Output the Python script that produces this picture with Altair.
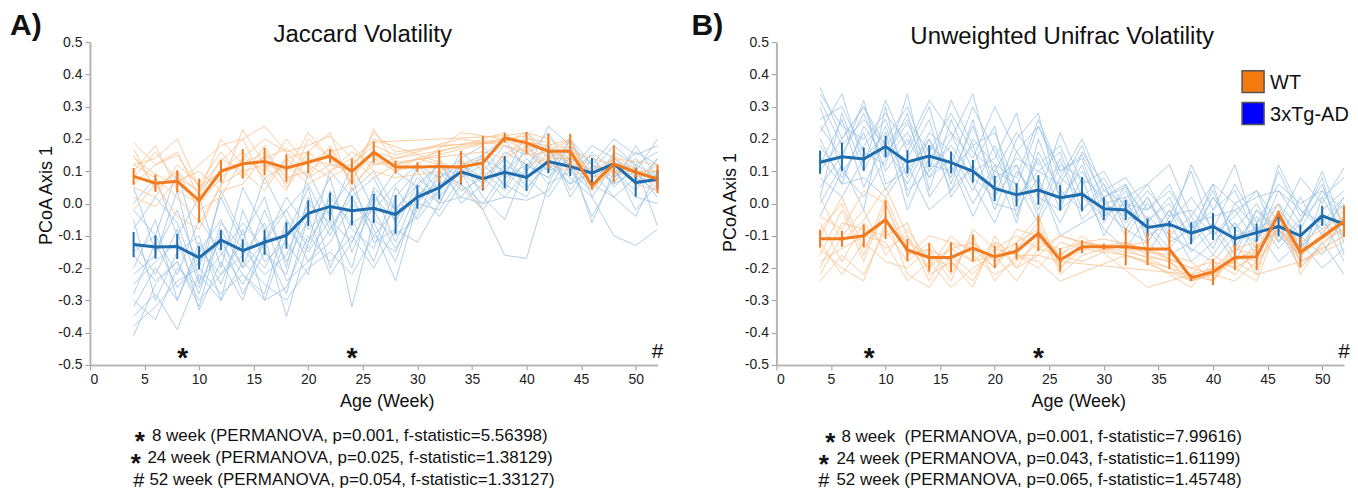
import altair as alt
import pandas as pd

WEEKS = [4, 6, 8, 10, 12, 14, 16, 18, 20, 22, 24, 26, 28, 30, 32, 34, 36, 38, 40, 42, 44, 46, 48, 50, 52]
N = None

# ---------------- Panel A : Jaccard ----------------
A_blue_mean = [-0.127, -0.135, -0.133, -0.168, -0.113, -0.146, -0.120, -0.099, -0.030, -0.009, -0.022, -0.015, -0.034,
               0.020, 0.049, 0.098, 0.077, 0.097, 0.081, 0.130, 0.115, 0.094, 0.123, 0.065, 0.075]
A_blue_err = [0.039, 0.036, 0.039, 0.036, 0.031, 0.035, 0.039, 0.041, 0.040, 0.043, 0.046, 0.045, 0.060,
              0.036, 0.036, 0.039, 0.036, 0.050, 0.042, 0.036, 0.030, 0.047, 0.030, 0.044, 0.030]
A_orange_mean = [0.084, 0.063, 0.069, 0.009, 0.100, 0.123, 0.130, 0.110, 0.128, 0.147, 0.099, 0.159, 0.113,
                 0.113, 0.115, 0.113, 0.126, 0.204, 0.188, 0.162, 0.162, 0.056, 0.123, 0.097, 0.076]
A_orange_err = [0.026, 0.027, 0.034, 0.068, 0.035, 0.046, 0.042, 0.043, 0.034, 0.022, 0.040, 0.034, 0.020,
                0.015, 0.050, 0.050, 0.083, 0.015, 0.034, 0.054, 0.054, 0.010, 0.057, 0.015, 0.044]

A_blue_ind = [
    [-0.41, -0.25, -0.18, -0.30, -0.22, -0.12, -0.20, -0.08, -0.15, -0.05, -0.12, 0.02, -0.05, 0.03, 0.06, 0.10, 0.04, 0.12, 0.08, 0.16, 0.12, 0.05, 0.14, 0.08, 0.10],
    [-0.30, -0.36, -0.20, -0.26, -0.10, -0.28, -0.15, -0.22, 0.02, -0.10, 0.05, -0.08, -0.24, 0.00, 0.08, 0.12, 0.15, 0.05, 0.18, 0.10, 0.20, 0.08, 0.12, -0.02, 0.06],
    [-0.02, -0.10, 0.10, -0.15, -0.05, -0.20, -0.02, -0.18, -0.05, 0.08, -0.15, 0.00, 0.10, 0.05, 0.12, 0.08, 0.15, 0.20, 0.10, 0.24, 0.18, 0.12, 0.20, 0.15, 0.18],
    [-0.20, -0.05, -0.30, -0.12, -0.25, -0.08, -0.30, -0.10, 0.05, -0.20, -0.05, -0.18, 0.02, 0.10, 0.00, 0.14, 0.02, -0.05, 0.12, 0.08, 0.14, -0.06, 0.10, 0.02, 0.00],
    [-0.12, -0.22, -0.08, -0.33, -0.18, -0.30, -0.10, -0.35, -0.12, 0.00, -0.32, -0.05, -0.10, -0.04, 0.10, 0.06, -0.02, -0.16, -0.17, 0.06, 0.10, 0.15, 0.05, 0.12, 0.08],
    [0.05, -0.15, -0.02, -0.20, 0.02, -0.12, 0.08, -0.05, -0.12, 0.10, 0.02, 0.08, -0.06, 0.12, 0.04, 0.16, 0.10, 0.18, 0.15, 0.22, 0.10, 0.18, 0.14, 0.10, 0.20],
    [-0.35, -0.28, -0.39, -0.22, -0.30, -0.18, -0.25, -0.30, -0.20, -0.15, -0.22, -0.10, -0.15, 0.00, -0.02, 0.08, 0.12, 0.06, 0.02, 0.14, 0.08, 0.02, -0.10, -0.13, -0.08],
    [-0.15, -0.10, -0.22, -0.05, -0.15, -0.25, -0.12, 0.02, -0.08, -0.02, 0.08, -0.12, -0.08, 0.06, 0.12, 0.04, 0.08, 0.14, 0.05, 0.12, 0.06, 0.16, 0.10, 0.04, 0.14],
    [-0.25, -0.18, -0.12, -0.28, -0.06, -0.14, -0.22, -0.16, 0.00, -0.06, -0.20, 0.05, -0.02, 0.08, 0.02, 0.10, 0.14, 0.10, 0.16, 0.10, 0.14, 0.10, 0.18, 0.12, -0.07],
    [-0.05, -0.30, -0.15, -0.10, -0.30, -0.02, -0.18, -0.12, -0.22, 0.04, -0.08, -0.14, 0.05, -0.05, 0.04, 0.12, 0.08, 0.02, 0.10, 0.18, 0.02, 0.12, 0.08, 0.16, 0.12],
    [-0.28, -0.12, -0.26, -0.18, -0.12, -0.22, -0.28, -0.05, -0.18, -0.12, 0.00, -0.06, -0.18, 0.02, 0.10, 0.02, 0.00, 0.02, 0.01, 0.04, 0.16, 0.06, 0.02, 0.08, 0.04],
    [0.00, 0.08, -0.10, 0.02, -0.20, 0.05, -0.08, -0.02, 0.06, -0.08, 0.04, 0.10, -0.02, 0.06, 0.00, 0.12, 0.06, 0.14, 0.08, 0.02, 0.12, -0.04, 0.08, 0.14, 0.06],
    [-0.38, -0.32, -0.24, -0.20, -0.28, -0.22, -0.30, -0.26, -0.10, -0.18, -0.10, -0.20, -0.08, -0.12, 0.00, 0.02, 0.10, 0.04, 0.14, 0.06, 0.20, 0.12, 0.06, 0.10, 0.02],
    [-0.08, 0.02, -0.06, -0.25, 0.04, -0.10, 0.02, -0.20, 0.10, -0.04, 0.12, -0.02, 0.06, 0.12, 0.08, 0.14, 0.18, 0.08, 0.22, 0.16, 0.10, 0.04, 0.16, 0.12, 0.16],
    [-0.22, -0.16, 0.04, -0.24, -0.16, -0.06, -0.14, -0.28, -0.04, -0.22, -0.12, 0.04, -0.12, 0.04, -0.04, 0.06, 0.00, 0.10, 0.04, 0.14, 0.06, 0.10, 0.02, -0.04, 0.10],
    [-0.32, -0.20, -0.30, -0.14, -0.22, -0.16, -0.06, -0.24, -0.18, -0.08, 0.02, -0.10, -0.02, 0.00, 0.14, 0.00, 0.06, 0.16, 0.12, 0.08, 0.18, 0.02, 0.12, 0.06, 0.14],
    [-0.16, -0.24, -0.18, -0.32, -0.08, -0.20, -0.12, -0.02, -0.14, 0.02, -0.06, -0.02, -0.14, -0.02, 0.04, 0.10, -0.02, 0.08, 0.12, 0.18, 0.04, 0.14, 0.06, 0.18, 0.08],
]
A_orange_ind = [
    [0.19, 0.12, 0.15, 0.05, 0.13, 0.20, 0.24, 0.16, 0.18, 0.21, 0.14, 0.19, N, N, N, N, N, 0.21, 0.22, 0.20, 0.16, N, 0.12, N, 0.08],
    [0.10, 0.18, 0.04, 0.00, 0.08, 0.14, 0.10, 0.20, 0.12, 0.17, 0.06, 0.23, 0.12, N, N, N, N, 0.20, 0.18, 0.16, 0.14, 0.06, 0.12, 0.10, 0.10],
    [0.05, 0.02, 0.12, 0.06, 0.16, 0.08, 0.18, 0.05, 0.14, 0.12, 0.10, 0.15, 0.10, 0.12, N, 0.22, N, N, N, 0.18, 0.20, 0.04, 0.15, N, 0.06],
    [0.12, 0.08, 0.02, -0.06, 0.05, 0.23, 0.12, 0.10, 0.22, 0.14, 0.08, 0.16, 0.14, N, N, N, N, N, 0.21, 0.14, 0.18, 0.08, 0.10, 0.08, 0.12],
    [0.15, 0.05, 0.10, 0.03, 0.20, 0.12, 0.16, 0.08, 0.10, 0.16, 0.18, 0.10, 0.08, N, 0.10, N, 0.14, 0.18, 0.16, 0.12, 0.10, N, N, N, N],
    [-0.02, 0.06, -0.04, -0.08, 0.06, 0.10, 0.04, 0.14, 0.08, 0.12, 0.12, 0.20, N, N, N, N, 0.08, 0.15, 0.20, 0.19, 0.12, 0.05, 0.10, 0.12, N],
    [0.08, 0.16, 0.07, 0.10, 0.04, 0.06, 0.15, 0.06, 0.16, 0.22, 0.04, 0.14, 0.10, 0.14, 0.12, 0.05, -0.02, N, N, N, N, N, N, N, N],
    [0.02, -0.01, 0.08, 0.04, 0.10, 0.16, 0.08, 0.12, 0.06, 0.10, 0.14, 0.08, 0.12, N, N, N, N, 0.22, 0.15, 0.16, 0.20, 0.06, 0.14, 0.09, 0.05],
    [0.12, 0.14, 0.20, 0.05, 0.10, 0.12, 0.14, 0.17, 0.12, 0.08, 0.12, 0.18, 0.15, N, N, 0.20, N, 0.18, 0.12, 0.14, 0.14, N, 0.10, N, 0.10],
    [0.14, 0.09, 0.06, 0.12, 0.18, 0.20, 0.06, 0.14, 0.16, 0.10, 0.16, 0.12, N, N, N, N, 0.16, 0.14, 0.18, 0.12, 0.16, 0.10, 0.14, N, 0.12],
    [0.06, 0.12, 0.16, 0.02, 0.14, 0.10, 0.12, 0.04, 0.20, 0.14, 0.10, 0.22, 0.16, N, N, N, N, 0.20, 0.16, 0.18, 0.12, 0.08, N, N, N],
    [0.17, 0.04, 0.10, -0.02, 0.02, 0.14, 0.20, 0.16, 0.08, 0.18, 0.06, 0.12, N, N, 0.18, N, N, 0.19, 0.22, 0.14, 0.20, 0.04, 0.12, 0.06, 0.04],
]

# ---------------- Panel B : Unweighted Unifrac ----------------
B_blue_mean = [0.128, 0.145, 0.138, 0.177, 0.129, 0.147, 0.127, 0.100, 0.047, 0.027, 0.042, 0.018, 0.029,
               -0.016, -0.020, -0.074, -0.064, -0.092, -0.071, -0.109, -0.090, -0.071, -0.100, -0.038, -0.064]
B_blue_err = [0.036, 0.044, 0.036, 0.033, 0.036, 0.034, 0.034, 0.035, 0.039, 0.036, 0.046, 0.040, 0.053,
              0.035, 0.031, 0.028, 0.010, 0.034, 0.042, 0.037, 0.028, 0.030, 0.035, 0.031, 0.010]
B_orange_mean = [-0.109, -0.109, -0.100, -0.050, -0.144, -0.167, -0.167, -0.138, -0.165, -0.148, -0.092, -0.175, -0.134,
                 -0.134, -0.134, -0.141, -0.141, -0.230, -0.212, -0.167, -0.165, -0.033, -0.151, -0.104, -0.055]
B_orange_err = [0.028, 0.025, 0.035, 0.060, 0.035, 0.044, 0.046, 0.042, 0.035, 0.026, 0.055, 0.036, 0.020,
                0.010, 0.058, 0.050, 0.062, 0.010, 0.041, 0.039, 0.041, 0.010, 0.045, 0.000, 0.049]

B_blue_ind = [
    [0.36, 0.20, 0.30, 0.15, 0.25, 0.10, 0.32, 0.18, 0.22, 0.05, 0.24, 0.10, 0.15, 0.02, 0.05, -0.05, 0.00, -0.10, 0.02, -0.08, 0.00, -0.12, -0.05, 0.02, -0.10],
    [0.22, 0.34, 0.12, 0.32, 0.16, 0.30, 0.06, 0.26, 0.02, 0.20, 0.28, 0.00, 0.12, -0.06, 0.06, -0.12, -0.02, -0.15, -0.08, -0.18, -0.06, 0.00, -0.14, -0.02, 0.04],
    [0.05, 0.15, 0.28, 0.10, 0.20, 0.08, 0.20, 0.34, 0.08, 0.12, -0.02, 0.14, -0.05, 0.02, -0.10, 0.00, -0.08, 0.12, -0.02, 0.12, -0.10, 0.10, -0.04, 0.06, -0.12],
    [0.30, 0.10, 0.18, 0.26, 0.08, 0.22, 0.16, 0.04, 0.18, 0.02, 0.10, 0.06, 0.18, 0.00, -0.04, -0.06, -0.14, -0.06, -0.16, -0.06, -0.14, -0.08, -0.20, -0.12, -0.22],
    [0.12, 0.26, 0.05, 0.20, 0.30, 0.12, 0.10, 0.18, -0.02, 0.16, 0.06, -0.06, 0.08, -0.10, 0.02, -0.16, -0.04, -0.02, -0.10, -0.02, -0.12, 0.12, -0.02, -0.06, 0.02],
    [0.18, 0.08, 0.22, 0.04, 0.14, 0.26, 0.02, 0.12, 0.24, -0.04, 0.16, 0.04, -0.02, 0.06, -0.06, 0.02, -0.12, -0.08, 0.04, -0.12, -0.04, -0.14, -0.06, 0.10, -0.08],
    [0.00, 0.12, -0.02, 0.30, 0.02, 0.18, 0.12, -0.04, 0.10, 0.06, -0.06, 0.08, 0.02, -0.04, 0.04, -0.10, -0.06, -0.18, -0.12, -0.06, -0.16, -0.02, -0.10, -0.16, -0.04],
    [0.26, 0.30, 0.16, 0.12, 0.34, 0.04, 0.26, 0.10, 0.14, 0.28, 0.02, 0.22, 0.06, 0.10, -0.02, 0.06, 0.12, -0.04, 0.06, 0.00, 0.04, -0.06, 0.08, 0.00, 0.11],
    [0.08, 0.02, 0.14, 0.22, -0.02, 0.14, 0.22, 0.06, -0.06, 0.10, 0.02, -0.02, 0.04, -0.08, -0.14, -0.04, -0.10, -0.14, -0.18, -0.10, -0.08, -0.18, -0.12, -0.20, -0.14],
    [0.32, 0.18, 0.26, 0.18, 0.06, 0.20, 0.08, 0.24, 0.06, 0.14, 0.10, 0.16, -0.02, 0.04, 0.00, -0.02, 0.04, -0.06, -0.04, -0.02, 0.02, 0.04, -0.02, -0.08, 0.00],
    [0.14, 0.06, 0.08, 0.02, 0.12, -0.02, 0.04, 0.12, 0.00, -0.02, 0.08, -0.10, -0.06, -0.02, -0.08, -0.12, -0.02, -0.10, 0.06, -0.14, -0.02, -0.10, -0.16, -0.04, -0.18],
    [-0.04, 0.10, 0.02, 0.14, 0.22, 0.08, 0.14, 0.00, 0.12, -0.06, 0.20, 0.02, 0.10, 0.00, 0.02, 0.06, -0.06, 0.02, -0.08, 0.06, -0.06, 0.06, 0.00, 0.04, -0.06],
    [0.34, 0.24, 0.20, 0.28, 0.18, 0.32, 0.22, 0.14, 0.30, 0.16, 0.24, 0.08, 0.20, 0.04, 0.08, -0.02, 0.06, -0.08, -0.02, 0.04, -0.10, 0.00, -0.08, 0.04, -0.02],
    [0.10, 0.20, 0.30, 0.18, 0.26, 0.16, 0.28, 0.16, 0.10, 0.22, 0.12, 0.18, 0.02, 0.08, -0.04, 0.04, -0.04, 0.10, -0.10, -0.04, 0.04, -0.12, 0.02, -0.10, 0.02],
    [0.24, 0.14, 0.32, 0.06, 0.10, 0.20, 0.04, 0.20, 0.12, 0.08, 0.26, 0.10, 0.14, -0.04, 0.00, -0.08, -0.16, -0.12, -0.06, -0.16, -0.02, -0.08, -0.14, -0.06, -0.10],
    [0.02, 0.28, 0.10, 0.24, 0.04, 0.10, 0.18, 0.08, 0.02, 0.12, -0.04, 0.12, 0.08, 0.02, 0.06, -0.06, 0.02, -0.12, 0.02, -0.08, -0.12, 0.04, -0.06, 0.08, -0.16],
    [0.20, 0.06, 0.24, 0.14, 0.28, 0.02, 0.12, 0.30, 0.16, 0.00, 0.14, -0.02, 0.16, 0.06, -0.08, 0.02, -0.10, -0.04, -0.14, 0.00, -0.08, -0.04, -0.18, 0.02, 0.08],
]
B_orange_ind = [
    [0.02, -0.12, -0.05, 0.05, -0.10, -0.20, -0.14, -0.18, -0.12, -0.20, -0.10, -0.16, -0.12, N, -0.14, N, -0.20, -0.24, -0.22, -0.18, N, -0.08, -0.16, N, -0.06],
    [-0.24, -0.16, -0.22, -0.08, -0.18, -0.12, -0.22, -0.10, -0.24, -0.16, -0.18, -0.24, N, N, -0.16, N, N, -0.22, -0.24, -0.16, -0.20, -0.06, -0.12, N, -0.04],
    [-0.10, 0.02, -0.14, -0.04, -0.22, -0.26, -0.16, -0.22, -0.14, -0.10, -0.14, -0.10, -0.12, -0.11, N, -0.14, N, -0.20, -0.18, -0.20, -0.16, -0.04, -0.14, N, N],
    [-0.04, -0.08, 0.04, 0.00, -0.16, -0.10, -0.12, -0.14, -0.20, -0.12, -0.04, -0.20, -0.14, N, -0.12, -0.16, -0.18, -0.24, -0.20, -0.14, -0.12, 0.00, -0.22, -0.12, -0.08],
    [-0.18, -0.14, -0.10, -0.12, -0.24, -0.18, -0.26, -0.20, -0.16, -0.24, -0.14, -0.16, -0.10, N, N, -0.26, N, -0.22, -0.20, -0.18, -0.22, N, -0.18, N, -0.10],
    [-0.14, -0.20, -0.24, -0.06, -0.12, -0.16, -0.20, -0.12, -0.18, -0.14, -0.06, -0.22, -0.16, -0.14, N, -0.12, N, -0.24, -0.22, -0.16, -0.18, -0.08, -0.16, N, -0.02],
    [-0.08, 0.00, -0.16, 0.02, -0.14, -0.20, -0.10, -0.16, -0.22, -0.18, -0.12, -0.14, -0.12, N, N, N, -0.18, -0.22, -0.24, -0.14, -0.16, -0.04, -0.12, N, N],
    [-0.20, -0.06, -0.08, -0.10, -0.06, -0.22, -0.18, -0.24, -0.12, -0.16, -0.20, -0.12, -0.14, N, -0.16, N, N, -0.24, -0.20, -0.18, -0.14, -0.02, -0.18, -0.14, -0.10],
    [-0.12, -0.22, -0.12, -0.18, -0.20, -0.14, -0.24, -0.08, -0.14, -0.16, -0.16, -0.18, N, N, N, N, N, -0.22, -0.16, -0.20, -0.24, -0.06, -0.20, N, -0.06],
    [-0.06, -0.18, -0.06, -0.14, -0.10, -0.24, -0.12, -0.18, -0.16, -0.12, -0.08, -0.16, -0.18, N, -0.12, N, N, -0.20, -0.22, -0.24, -0.18, -0.10, -0.14, N, -0.08],
    [-0.16, -0.02, -0.18, 0.00, -0.16, -0.14, -0.18, -0.26, -0.10, -0.20, -0.16, -0.10, N, -0.14, N, -0.18, N, -0.26, -0.18, -0.22, -0.14, -0.06, -0.18, N, -0.12],
    [-0.22, -0.10, -0.02, -0.16, -0.08, -0.18, -0.14, -0.12, -0.20, -0.08, -0.10, -0.20, -0.12, N, N, N, -0.16, -0.18, -0.24, -0.12, -0.22, -0.02, -0.16, N, -0.04],
]

MARK_WEEKS = [8.5, 24, 52]
MARK_SYMBOLS = ["*", "*", "#"]
MARK_LEVEL = -0.458

A_NOTES = ["8 week (PERMANOVA, p=0.001, f-statistic=5.56398)",
           "24 week (PERMANOVA, p=0.025, f-statistic=1.38129)",
           "52 week (PERMANOVA, p=0.054, f-statistic=1.33127)"]
B_NOTES = ["8 week\u00a0 (PERMANOVA, p=0.001, f-statistic=7.99616)",
           "24 week (PERMANOVA, p=0.043, f-statistic=1.61199)",
           "52 week (PERMANOVA, p=0.065, f-statistic=1.45748)"]

GROUPS = ["WT", "3xTg-AD"]
MAIN_COLORS = ["#F27A1F", "#1F6CAE"]
LIGHT_BLUE = "#9CC3E3"
LIGHT_ORANGE = "#FDC08C"
LEGEND_COLORS = ["#F47A10", "#0000FF"]

FONT = "Liberation Sans"
W, H = 568, 323

Y_TICKS = [-0.5, -0.4, -0.3, -0.2, -0.1, 0.0, 0.1, 0.2, 0.3, 0.4, 0.5]
X_TICKS = [0, 5, 10, 15, 20, 25, 30, 35, 40, 45, 50]


def ind_frame(lines, prefix):
    rows = []
    for i, vals in enumerate(lines):
        for w, v in zip(WEEKS, vals):
            if v is not None:
                rows.append({"week": w, "value": v, "mouse": f"{prefix}{i}"})
    return pd.DataFrame(rows)


def mean_frame(mb, eb, mo, eo):
    rows = []
    for g, m, e in (("3xTg-AD", mb, eb), ("WT", mo, eo)):
        for w, v, er in zip(WEEKS, m, e):
            rows.append({"week": w, "value": v, "lo": v - er, "hi": v + er, "group": g})
    return pd.DataFrame(rows)


def text_layer(txt, x, y, size, weight="normal", align="left", baseline="alphabetic", color="#111"):
    return alt.Chart(pd.DataFrame({"t": [txt]})).mark_text(
        font=FONT, fontSize=size, fontWeight=weight, align=align, baseline=baseline, color=color
    ).encode(text="t:N", x=alt.value(x), y=alt.value(y))


def legend_layers(x0, y0, gap):
    layers = []
    for i, (g, c) in enumerate(zip(GROUPS, LEGEND_COLORS)):
        cy = y0 + i * gap
        sq = alt.Chart(pd.DataFrame({"g": [g]})).mark_square(
            size=484, color=c, opacity=1, stroke="#555555", strokeWidth=1.5, filled=True
        ).encode(x=alt.value(x0), y=alt.value(cy))
        layers.append(sq)
        layers.append(text_layer(g, x0 + 17, cy + 7.5, 20))
    return layers


def panel(blue_ind, orange_ind, mb, eb, mo, eo, title, title_x, title_y, label, label_x,
          notes, note_pos, xtitle_x, ytitle_x, ytitle_y, legend=False):
    xenc = alt.X("week:Q", scale=alt.Scale(domain=[0, 52], nice=False, zero=False),
                 axis=alt.Axis(values=X_TICKS, tickCount=30, title="Age (Week)", titleX=xtitle_x, titleY=42,
                               titleBaseline="alphabetic", titleAlign="center", titleAnchor="start",
                               labelOverlap=False))
    yenc = alt.Y("value:Q", scale=alt.Scale(domain=[-0.5, 0.5], nice=False, zero=False),
                 axis=alt.Axis(values=Y_TICKS, tickCount=30, title="PCoA Axis 1", titleX=ytitle_x, titleY=ytitle_y,
                               titleBaseline="alphabetic", titleAlign="center", titleAnchor="start",
                               labelOverlap=False,
                               labelExpr="datum.value < 0 ? '-' + format(-datum.value, '.1f') : format(datum.value, '.1f')"))
    xv = alt.X("week:Q")
    yv = alt.Y("value:Q")

    ib = alt.Chart(ind_frame(blue_ind, "b")).mark_line(
        strokeWidth=1, color=LIGHT_BLUE, opacity=0.8).encode(x=xenc, y=yenc, detail="mouse:N")
    io = alt.Chart(ind_frame(orange_ind, "o")).mark_line(
        strokeWidth=1, color=LIGHT_ORANGE, opacity=0.8).encode(x=xv, y=yv, detail="mouse:N")

    md = mean_frame(mb, eb, mo, eo)
    cscale = alt.Scale(domain=GROUPS, range=MAIN_COLORS)
    mean_lines = alt.Chart(md).mark_line(strokeWidth=3).encode(
        x=xv, y=yv, color=alt.Color("group:N", scale=cscale, legend=None),
        order=alt.Order("week:Q"))
    err = alt.Chart(md).mark_rule(strokeWidth=2).encode(
        x=xv, y="lo:Q", y2="hi:Q", color=alt.Color("group:N", scale=cscale, legend=None))

    mk = pd.DataFrame({"week": MARK_WEEKS, "value": [MARK_LEVEL] * 3, "sym": MARK_SYMBOLS})
    stars = alt.Chart(mk[mk["sym"] == "*"]).mark_text(
        font=FONT, fontSize=28, fontWeight="bold", baseline="alphabetic", dy=16, color="#111"
    ).encode(x=xv, y=yv, text="sym:N")
    hashes = alt.Chart(mk[mk["sym"] == "#"]).mark_text(
        font=FONT, fontSize=21, baseline="alphabetic", dy=7, color="#111"
    ).encode(x=xv, y=yv, text="sym:N")

    layers = [ib, io, mean_lines, err, stars, hashes,
              text_layer(title, title_x, title_y, 24, align="center"),
              text_layer(label, label_x, -7, 30, weight="bold")]
    syms = ["*", "*", "#"]
    for s, n, (sx, sy, tx, ty) in zip(syms, notes, note_pos):
        if s == "*":
            layers.append(text_layer(s, sx, sy + 15, 26, weight="bold", align="center"))
        else:
            layers.append(text_layer(s, sx, sy + 7, 20, align="center"))
        layers.append(text_layer(n, tx, ty, 17))

    if legend:
        layers.extend(legend_layers(477, 39.5, 32))

    return alt.layer(*layers).properties(width=W, height=H)


A = panel(A_blue_ind, A_orange_ind, A_blue_mean, A_blue_err, A_orange_mean, A_orange_err,
          "Jaccard Volatility", 273, 0, "A)", -80, A_NOTES,
          [(50, 393, 62, 399), (46, 415, 57.5, 421), (49, 438, 59.5, 443)],
          297, -38, 153)
B = panel(B_blue_ind, B_orange_ind, B_blue_mean, B_blue_err, B_orange_mean, B_orange_err,
          "Unweighted Unifrac Volatility", 286, 2, "B)", -85, B_NOTES,
          [(54, 394, 65, 400), (47.5, 416, 60, 422), (47.5, 438, 60, 443)],
          302, -41, 160, legend=True)

chart = alt.hconcat(A, B, spacing=119, bounds="flush").properties(
    padding={"left": 2, "top": 3, "right": 0, "bottom": 0}
).configure_view(stroke=None).configure_axis(
    labelFont=FONT, titleFont=FONT, labelFontSize=14, titleFontSize=18, titleFontWeight="normal",
    labelColor="#222", titleColor="#111", domainColor="#B5B5B5", domainWidth=2,
    tickColor="#9A9A9A", tickSize=5, tickWidth=1, labelPadding=3, grid=False, labelOverlap=False
)

chart.save("out.html", embed_options={"renderer": "svg", "actions": False})
